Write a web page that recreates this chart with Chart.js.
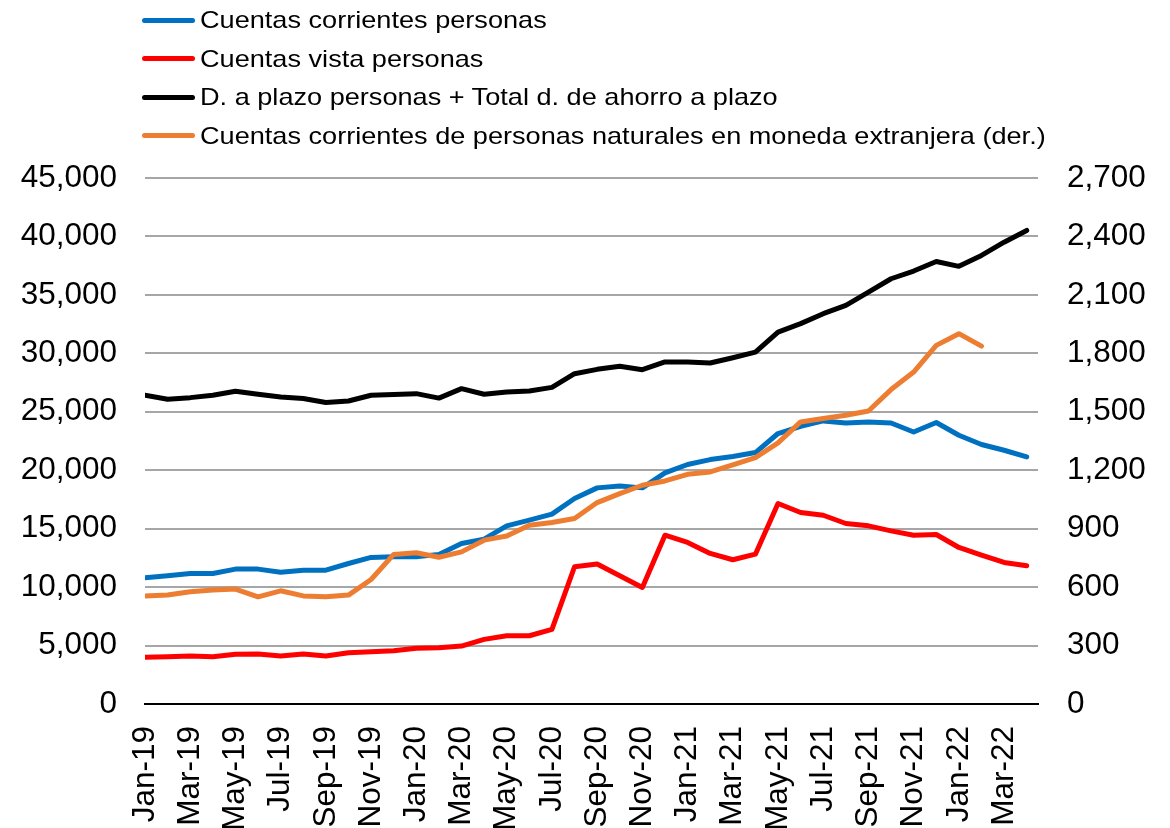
<!DOCTYPE html>
<html>
<head>
<meta charset="utf-8">
<script src="https://cdn.jsdelivr.net/npm/chart.js@4.4.1/dist/chart.umd.min.js"></script>
<style>
  body{margin:0;background:#fff;}
  #wrap{position:relative;width:1170px;height:828px;}
  #legend{position:absolute;left:142px;top:1px;font-family:Arial,"Liberation Sans",sans-serif;font-size:24px;color:#000;}
  #legend .row{display:flex;align-items:center;height:38.5px;white-space:nowrap;}
  #legend .sw{width:53px;height:5px;border-radius:3px;margin-right:5px;flex:none;}
  #legend .tx{display:inline-block;transform:scaleX(1.13);transform-origin:left center;}
</style>
</head>
<body>
<div id="wrap">
  <canvas id="c" width="1170" height="828"></canvas>
  <div id="legend"></div>
</div>
<script>
// meses
const months = ['Jan-19','Feb-19','Mar-19','Apr-19','May-19','Jun-19','Jul-19','Aug-19','Sep-19','Oct-19','Nov-19','Dec-19',
  'Jan-20','Feb-20','Mar-20','Apr-20','May-20','Jun-20','Jul-20','Aug-20','Sep-20','Oct-20','Nov-20','Dec-20',
  'Jan-21','Feb-21','Mar-21','Apr-21','May-21','Jun-21','Jul-21','Aug-21','Sep-21','Oct-21','Nov-21','Dec-21',
  'Jan-22','Feb-22','Mar-22','Apr-22'];

const corrientes = [10800,10970,11170,11170,11540,11540,11280,11450,11450,12020,12540,12590,
  12590,12800,13730,14100,15240,15730,16240,17580,18490,18660,18490,19770,
  20490,20910,21180,21510,23140,23760,24220,24040,24130,24040,23270,24080,
  22990,22200,21710,21140];

const vista = [3990,4040,4100,4040,4250,4270,4100,4270,4100,4390,4470,4560,
  4760,4810,4960,5530,5840,5840,6380,11740,11970,10970,9970,14440,
  13820,12880,12340,12820,17150,16380,16150,15440,15240,14810,14440,14500,
  13390,12730,12110,11820];

const plazo = [26410,26070,26210,26410,26750,26500,26270,26130,25790,25920,26410,26470,
  26550,26170,26980,26500,26690,26780,27090,28260,28630,28890,28600,29260,
  29260,29170,29620,30100,31820,32540,33390,34100,35240,36380,37040,37860,
  37440,38380,39510,40510];

// eje derecho
const monedaExt = [555,559,576,585,590,550,581,555,550,559,639,768,
  776,753,781,841,862,918,932,952,1034,1080,1123,1145,
  1179,1191,1228,1265,1340,1448,1465,1482,1504,1614,1704,1841,
  1901,1837,null,null];

const names = ['Cuentas corrientes personas','Cuentas vista personas',
  'D. a plazo personas + Total d. de ahorro a plazo',
  'Cuentas corrientes de personas naturales en moneda extranjera (der.)'];
const colors = ['#0070C0','#FF0000','#000000','#ED7D31'];

const pts = arr => arr.map((v,i)=>({x:i,y:v}));
const fmt = n => Number(n).toLocaleString('en-US');
const FONT = 'Arial, "Liberation Sans", sans-serif';

Chart.defaults.color = '#000';
Chart.defaults.font.family = FONT;

const ds = (i, arr, axis) => ({
  label: names[i], data: pts(arr), yAxisID: axis,
  borderColor: colors[i], backgroundColor: colors[i],
  borderWidth: 5, pointRadius: 0, tension: 0, spanGaps: false,
  borderCapStyle: 'round', borderJoinStyle: 'round'
});

new Chart(document.getElementById('c'), {
  type: 'line',
  data: {
    datasets: [
      ds(3, monedaExt, 'y1'),
      ds(2, plazo, 'y'),
      ds(1, vista, 'y'),
      ds(0, corrientes, 'y')
    ]
  },
  options: {
    responsive: false, animation: false,
    layout: {padding: {top: 178, left: 0, right: 0, bottom: 0}},
    plugins: {legend: {display: false}, tooltip: {enabled: false}},
    scales: {
      x: {
        type: 'linear', min: 0, max: 39.5,
        afterFit: s => { s.height = 124; },
        grid: {display: false},
        border: {color: '#000', width: 2},
        ticks: {
          stepSize: 2, includeBounds: false, autoSkip: false,
          minRotation: 90, maxRotation: 90, padding: 14,
          font: {size: 31.5},
          callback: v => months[v]
        }
      },
      y: {
        position: 'left', min: 0, max: 45000,
        afterFit: s => { s.width = 145; },
        border: {display: false},
        grid: {color: c => c.tick && c.tick.value === 0 ? '#000' : '#a6a6a6', lineWidth: 2, drawTicks: false},
        ticks: {stepSize: 5000, padding: 28, font: {size: 31.5}, callback: v => fmt(v)}
      },
      y1: {
        position: 'right', min: 0, max: 2700,
        afterFit: s => { s.width = 132; },
        border: {display: false},
        grid: {display: false, drawTicks: false},
        ticks: {stepSize: 300, padding: 29, font: {size: 31.5}, callback: v => fmt(v)}
      }
    }
  }
});

const leg = document.getElementById('legend');
leg.innerHTML = names.map((n,i)=>`<div class="row"><span class="sw" style="background:${colors[i]}"></span><span class="tx">${n}</span></div>`).join('');
</script>
</body>
</html>
